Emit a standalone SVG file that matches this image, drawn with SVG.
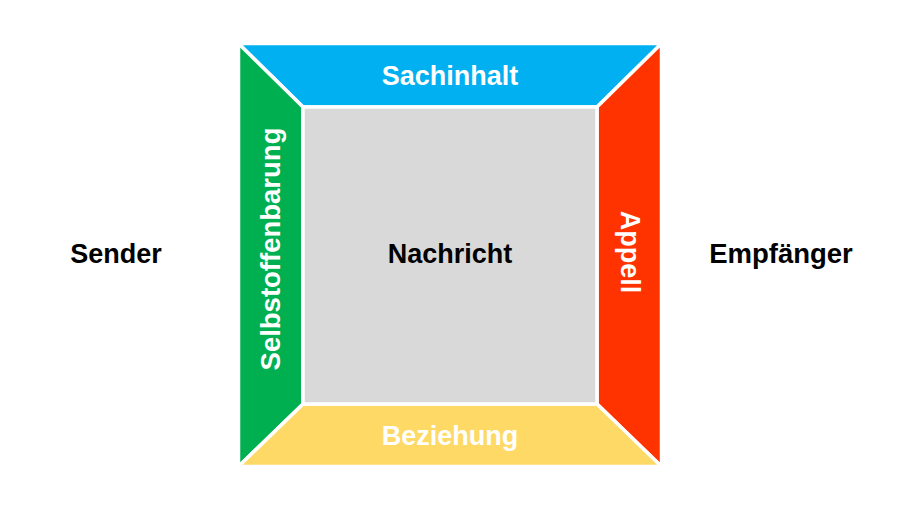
<svg xmlns="http://www.w3.org/2000/svg" width="900" height="506" viewBox="0 0 900 506">
<style>
.side{stroke:#FFFFFF;stroke-width:3.5;stroke-linejoin:miter}
.t{font-family:"Liberation Sans",Arial,sans-serif;font-weight:bold;font-size:27px;text-anchor:middle}
.w{fill:#FFFFFF}
.k{fill:#000000}
</style>
<rect width="900" height="506" fill="#FFFFFF"/>
<g id="sachinhalt">
<polygon class="side" fill="#00B0F0" points="238.5,43.5 661.5,43.5 597,107 303,107"/>
<text class="t w" x="450" y="85">Sachinhalt</text>
</g>
<g id="selbstoffenbarung">
<polygon class="side" fill="#00B050" points="238.5,43.5 303,107 303,404 238.5,466.5"/>
<text class="t w" style="font-size:27.5px" transform="translate(280,249) rotate(-90)">Selbstoffenbarung</text>
</g>
<g id="appell">
<polygon class="side" fill="#FF3300" points="661.5,43.5 661.5,466.5 597,404 597,107"/>
<text class="t w" transform="translate(621,252) rotate(90)">Appell</text>
</g>
<g id="beziehung">
<polygon class="side" fill="#FFD966" points="238.5,466.5 303,404 597,404 661.5,466.5"/>
<text class="t w" x="450" y="445">Beziehung</text>
</g>
<g id="nachricht">
<rect class="side" fill="#D9D9D9" x="303" y="107" width="294" height="297"/>
<text class="t k" x="450" y="263">Nachricht</text>
</g>
<g id="sender">
<text class="t k" x="116" y="263">Sender</text>
</g>
<g id="empfaenger">
<text class="t k" style="font-size:27.5px" x="781" y="263">Empfänger</text>
</g>
<g id="connectors"></g>
</svg>
